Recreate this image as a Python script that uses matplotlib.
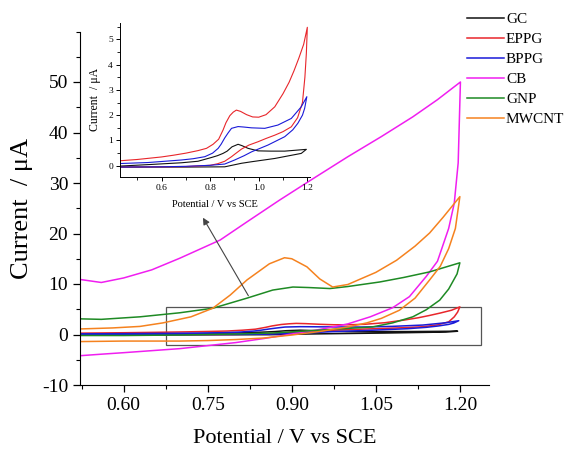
import matplotlib
matplotlib.use("Agg")
import matplotlib.pyplot as plt
from matplotlib.patches import Rectangle
from matplotlib.ticker import MultipleLocator

plt.rcParams['font.family'] = ['Liberation Serif', 'DejaVu Serif']
plt.rcParams['lines.solid_joinstyle'] = 'round'

labels = ["GC", "EPPG", "BPPG", "CB", "GNP", "MWCNT"]
colors = ["#111111", "#e8262b", "#1a1ad8", "#f01ef0", "#1e8a24", "#f5821f"]

# ---- GC ----
gc_fwd_E = [0.43, 0.70, 0.86, 0.929, 0.97, 1.066, 1.175, 1.196]
gc_fwd_I = [-0.05, -0.05, -0.04, 0.10, 0.16, 0.29, 0.49, 0.65]
gc_rev_E = [1.196, 1.107, 1.05, 0.997, 0.956, 0.93, 0.915, 0.89, 0.87, 0.853, 0.83, 0.806, 0.75, 0.682, 0.55, 0.43]
gc_rev_I = [0.65, 0.58, 0.58, 0.59, 0.69, 0.80, 0.85, 0.75, 0.58, 0.49, 0.40, 0.33, 0.18, 0.12, 0.05, -0.01]

# ---- EPPG ----
ep_fwd_E = [0.43, 0.70, 0.80, 0.83, 0.86, 0.888, 0.90, 0.929, 0.96, 0.997, 1.03, 1.066, 1.10, 1.134, 1.16, 1.18, 1.19, 1.196, 1.20]
ep_fwd_I = [-0.05, -0.03, 0.02, 0.08, 0.18, 0.36, 0.45, 0.66, 0.82, 0.95, 1.08, 1.21, 1.35, 1.54, 1.90, 2.50, 3.50, 4.44, 5.47]
ep_rev_E = [1.20, 1.185, 1.165, 1.145, 1.125, 1.10, 1.066, 1.03, 1.00, 0.975, 0.95, 0.925, 0.908, 0.895, 0.881, 0.865, 0.853, 0.835, 0.812, 0.785, 0.75, 0.70, 0.65, 0.60, 0.55, 0.50, 0.43]
ep_rev_I = [5.47, 4.80, 4.25, 3.75, 3.30, 2.85, 2.33, 2.02, 1.92, 1.93, 2.02, 2.15, 2.20, 2.12, 1.98, 1.70, 1.41, 1.05, 0.85, 0.69, 0.60, 0.50, 0.42, 0.35, 0.30, 0.25, 0.20]

# ---- BPPG ----
bp_fwd_E = [0.43, 0.60, 0.70, 0.80, 0.86, 0.901, 0.94, 0.97, 1.038, 1.107, 1.14, 1.161, 1.18, 1.189, 1.198]
bp_fwd_I = [-0.05, -0.04, -0.02, 0.02, 0.07, 0.23, 0.40, 0.55, 0.82, 1.15, 1.42, 1.68, 2.00, 2.27, 2.73]
bp_rev_E = [1.198, 1.175, 1.134, 1.079, 1.025, 0.97, 0.94, 0.915, 0.888, 0.874, 0.86, 0.845, 0.833, 0.81, 0.778, 0.73, 0.682, 0.60, 0.545, 0.43]
bp_rev_I = [2.73, 2.33, 1.87, 1.61, 1.48, 1.50, 1.53, 1.55, 1.48, 1.30, 1.10, 0.85, 0.69, 0.50, 0.36, 0.28, 0.23, 0.17, 0.13, 0.09]

# ---- CB ----
cb_fwd_E = [0.522, 0.56, 0.60, 0.65, 0.70, 0.75, 0.80, 0.85, 0.90, 0.95, 1.00, 1.04, 1.08, 1.11, 1.14, 1.16, 1.18, 1.19, 1.197, 1.201]
cb_fwd_I = [-4.2, -3.9, -3.6, -3.2, -2.8, -2.2, -1.6, -0.8, 0.1, 1.0, 2.1, 3.5, 5.3, 7.5, 11.5, 14.5, 21.0, 26.0, 34.0, 50.0]
cb_rev_E = [1.201, 1.16, 1.116, 1.06, 1.00, 0.94, 0.878, 0.82, 0.772, 0.70, 0.65, 0.60, 0.56, 0.522]
cb_rev_I = [50.0, 46.5, 43.1, 39.2, 35.2, 31.0, 26.6, 22.3, 18.7, 15.1, 12.8, 11.2, 10.3, 10.9]

# ---- GNP ----
gn_fwd_E = [0.522, 0.60, 0.70, 0.75, 0.80, 0.866, 0.955, 1.044, 1.08, 1.116, 1.14, 1.164, 1.18, 1.195, 1.20]
gn_fwd_I = [-0.2, -0.2, -0.1, 0.0, 0.1, 0.3, 0.9, 1.5, 2.3, 3.5, 4.9, 6.8, 9.0, 12.0, 14.2]
gn_rev_E = [1.20, 1.146, 1.10, 1.057, 1.00, 0.968, 0.93, 0.902, 0.866, 0.82, 0.759, 0.70, 0.629, 0.56, 0.522]
gn_rev_I = [14.2, 12.4, 11.3, 10.4, 9.5, 9.1, 9.3, 9.4, 8.8, 7.2, 5.2, 4.3, 3.5, 3.0, 3.1]

# ---- MWCNT ----
mw_fwd_E = [0.522, 0.60, 0.70, 0.75, 0.80, 0.85, 0.90, 0.95, 1.00, 1.034, 1.06, 1.092, 1.12, 1.146, 1.165, 1.18, 1.192, 1.20]
mw_fwd_I = [-1.4, -1.3, -1.3, -1.2, -1.0, -0.7, -0.1, 0.6, 1.5, 2.3, 3.2, 4.8, 7.2, 10.8, 13.5, 17.0, 21.0, 27.3]
mw_rev_E = [1.20, 1.17, 1.146, 1.12, 1.087, 1.05, 1.027, 1.00, 0.973, 0.95, 0.927, 0.90, 0.887, 0.86, 0.82, 0.79, 0.759, 0.72, 0.67, 0.629, 0.58, 0.522]
mw_rev_I = [27.3, 23.2, 20.1, 17.5, 14.7, 12.3, 11.2, 9.9, 9.4, 11.0, 13.4, 15.0, 15.2, 14.0, 10.8, 7.8, 5.2, 3.5, 2.3, 1.6, 1.3, 1.1]

series = [
    (gc_fwd_E, gc_fwd_I, gc_rev_E, gc_rev_I),
    (ep_fwd_E, ep_fwd_I, ep_rev_E, ep_rev_I),
    (bp_fwd_E, bp_fwd_I, bp_rev_E, bp_rev_I),
    (cb_fwd_E, cb_fwd_I, cb_rev_E, cb_rev_I),
    (gn_fwd_E, gn_fwd_I, gn_rev_E, gn_rev_I),
    (mw_fwd_E, mw_fwd_I, mw_rev_E, mw_rev_I),
]
inset_idx = [0, 1, 2]

fig = plt.figure(figsize=(5.69, 4.5), dpi=100)
ax = fig.add_axes([80/569, 1-385/450, 409/569, 353.5/450])

handles = []
for (fE, fI, rE, rI), lab, c in zip(series, labels, colors):
    ln, = ax.plot(fE + rE[1:], fI + rI[1:], color=c, lw=1.1, label=lab)
    handles.append(ln)

ax.set_xlim(0.522, 1.252)
ax.set_ylim(-10, 60)
ax.xaxis.set_minor_locator(MultipleLocator(0.075))
ax.yaxis.set_minor_locator(MultipleLocator(5))
ax.set_xticks([0.60, 0.75, 0.90, 1.05, 1.20])
ax.set_xticklabels(["0.60", "0.75", "0.90", "1.05", "1.20"])
ax.set_yticks([-10, 0, 10, 20, 30, 40, 50])
ax.set_yticklabels(["-10", "0", "10", "20", "30", "40", "50"])
for s in ["top", "right"]:
    ax.spines[s].set_visible(False)
ax.tick_params(which='major', direction='out', length=5, width=0.9, labelsize=14)
ax.tick_params(which='minor', direction='out', length=3, width=0.8)
ax.set_xlabel("Potential / V vs SCE", fontsize=16, labelpad=11)
ax.set_ylabel("Current  / μA", fontsize=19)
ax.yaxis.set_label_coords(-0.115, 0.5)

ax.add_patch(Rectangle((0.675, -2.0), 1.237-0.675, 7.5, fill=False, edgecolor="#555555", lw=0.9))
ax.annotate("", xy=(0.739, 23.6), xytext=(0.825, 7.2),
            arrowprops=dict(arrowstyle='-|>', color='#444444', lw=0.8, mutation_scale=10))

fig.legend(handles, labels, loc='upper left', bbox_to_anchor=(467/569, 0.972), frameon=False,
           borderaxespad=0, borderpad=0, handlelength=2.4, handletextpad=0.15,
           labelspacing=0.41, fontsize=11)

# inset
ins = fig.add_axes([120/569, 1-176.7/450, 190/569, 153.7/450])
for i in inset_idx:
    fE, fI, rE, rI = series[i]
    ins.plot(fE + rE[1:], fI + rI[1:], color=colors[i], lw=0.8)
ins.set_xlim(0.429, 1.211)
ins.set_ylim(-0.43, 5.64)
ins.xaxis.set_minor_locator(MultipleLocator(0.1))
ins.set_xticks([0.6, 0.8, 1.0, 1.2])
ins.set_xticklabels(["0.6", "0.8", "1.0", "1.2"])
ins.set_yticks([0, 1, 2, 3, 4, 5])
ins.yaxis.set_minor_locator(MultipleLocator(0.5))
for s in ["top", "right"]:
    ins.spines[s].set_visible(False)
ins.tick_params(which='major', direction='out', length=3, width=0.7, labelsize=6.8, pad=2)
ins.tick_params(which='minor', direction='out', length=2, width=0.6)
ins.set_xlabel("Potential / V vs SCE", fontsize=7.5, labelpad=6)
ins.set_ylabel("Current  / μA", fontsize=8.5, labelpad=5)
for sp in ins.spines.values():
    sp.set_linewidth(0.7)

fig.savefig("out.png", dpi=100)
